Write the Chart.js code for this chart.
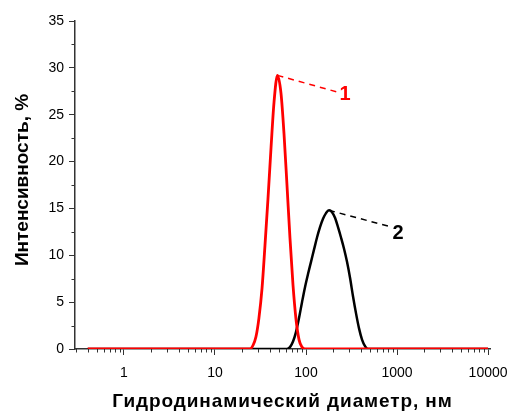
<!DOCTYPE html>
<html>
<head>
<meta charset="utf-8">
<script src="https://cdn.jsdelivr.net/npm/chart.js@4.4.1/dist/chart.umd.min.js"></script>
<style>
  html, body { margin: 0; padding: 0; background: #fff; }
</style>
</head>
<body>
<canvas id="c" width="513" height="412"></canvas>
<script>
// sample 1 (red): diameter, nm / intensity, %
const diam1 = [0.4, 24.2, 26.2, 28.2, 30.4, 32.9, 35.4, 38.2, 41.3, 44.5, 48.6,
  53.1, 57.3, 61.8, 66.7, 72.0, 77.6, 83.8, 90.4, 97.5, 10000];
const int1 = [0, 0, 0.4, 1.3, 3.3, 6.5, 11.0, 16.0, 21.5, 26.3, 29.2,
  27.3, 23.0, 17.5, 11.8, 6.8, 3.2, 1.0, 0.2, 0, 0];

// sample 2 (black)
const diam2 = [0.4, 61.8, 66.7, 72.0, 77.6, 83.8, 90.4, 97.5, 105.2, 113.5, 122.4,
  132.1, 142.5, 153.8, 165.9, 178.9, 193.1, 208.3, 224.7, 242.4, 261.6,
  282.2, 304.5, 328.6, 354.4, 382.3, 412.5, 444.9, 480.0, 10000];
const int2 = [0, 0, 0.2, 0.8, 1.8, 3.3, 5.0, 6.6, 8.0, 9.3, 10.6,
  11.9, 13.0, 13.9, 14.5, 14.8, 14.6, 14.0, 13.0, 11.9, 10.7,
  9.3, 7.6, 5.6, 3.8, 2.2, 1.0, 0.3, 0, 0];

const xTicks = [1, 10, 100, 1000, 10000];
const yTicks = [0, 5, 10, 15, 20, 25, 30, 35];
const curveLabels = ['1', '2'];
const xTitle = 'Гидродинамический диаметр, нм';
const yTitle = 'Интенсивность, %';

const FONT = "'Liberation Sans', Arial, sans-serif";

function pts(xs, ys) {
  return xs.map((d, i) => ({ x: d, y: ys[i] }));
}

// leader lines + curve numbers (data coords)
const notes = [
  { from: [48.6, 29.2], to: [225, 27.4], at: [268, 27.3], text: curveLabels[0], color: '#ff0000' },
  { from: [178.9, 14.8], to: [881, 13.0], at: [1026, 12.4], text: curveLabels[1], color: '#000000' }
];

const notePlugin = {
  id: 'notes',
  afterDatasetsDraw(chart) {
    const ctx = chart.ctx;
    const xs = chart.scales.x, ys = chart.scales.y;
    ctx.save();
    notes.forEach(n => {
      ctx.beginPath();
      ctx.setLineDash([6, 5]);
      ctx.lineWidth = 1.5;
      ctx.strokeStyle = n.color;
      ctx.moveTo(xs.getPixelForValue(n.from[0]), ys.getPixelForValue(n.from[1]));
      ctx.lineTo(xs.getPixelForValue(n.to[0]), ys.getPixelForValue(n.to[1]));
      ctx.stroke();
      ctx.setLineDash([]);
      ctx.fillStyle = n.color;
      ctx.font = 'bold 20px ' + FONT;
      ctx.textAlign = 'center';
      ctx.textBaseline = 'middle';
      ctx.fillText(n.text, xs.getPixelForValue(n.at[0]), ys.getPixelForValue(n.at[1]) + 1);
    });
    ctx.restore();
  }
};

// short minor ticks + axis titles
const decor = {
  id: 'decor',
  afterDraw(chart) {
    const ctx = chart.ctx;
    const xs = chart.scales.x, ys = chart.scales.y;
    const area = chart.chartArea;
    ctx.save();
    ctx.strokeStyle = '#333';
    ctx.lineWidth = 1;
    ctx.beginPath();
    for (let k = -1; k <= 3; k++) {
      for (let d = 2; d <= 9; d++) {
        const v = d * Math.pow(10, k);
        if (v < xs.min || v > xs.max) continue;
        const px = Math.round(xs.getPixelForValue(v)) + 0.5;
        ctx.moveTo(px, area.bottom);
        ctx.lineTo(px, area.bottom + 3.5);
      }
    }
    for (let v = 2.5; v < 35; v += 5) {
      const py = Math.round(ys.getPixelForValue(v)) + 0.5;
      ctx.moveTo(area.left, py);
      ctx.lineTo(area.left - 3.5, py);
    }
    ctx.stroke();

    ctx.fillStyle = '#000';
    ctx.font = 'bold 19px ' + FONT;
    ctx.textAlign = 'center';
    ctx.textBaseline = 'alphabetic';
    ctx.letterSpacing = '0.9px';
    ctx.fillText(xTitle, (area.left + area.right) / 2, 407);
    ctx.letterSpacing = '0px';
    ctx.translate(27.5, 180);
    ctx.rotate(-Math.PI / 2);
    ctx.fillText(yTitle, 0, 0);
    ctx.restore();
  }
};

new Chart(document.getElementById('c'), {
  type: 'line',
  data: {
    datasets: [
      { label: '1', data: pts(diam1, int1), borderColor: '#ff0000', borderWidth: 2.8,
        pointRadius: 0, cubicInterpolationMode: 'monotone', fill: false },
      { label: '2', data: pts(diam2, int2), borderColor: '#000000', borderWidth: 2.5,
        pointRadius: 0, cubicInterpolationMode: 'monotone', fill: false }
    ]
  },
  options: {
    responsive: false,
    animation: false,
    layout: { padding: { left: 0, right: 23, top: 21, bottom: 0 } },
    plugins: { legend: { display: false }, tooltip: { enabled: false } },
    scales: {
      x: {
        type: 'logarithmic',
        min: 0.29,
        max: 10500,
        afterBuildTicks: s => { s.ticks = xTicks.map(v => ({ value: v })); },
        afterFit: s => { s.height = 63; s.paddingLeft = 0; s.paddingRight = 0; },
        ticks: {
          autoSkip: false, maxRotation: 0, padding: 10,
          color: '#000', font: { family: FONT, size: 14 },
          callback: v => String(v)
        },
        grid: { drawOnChartArea: false, drawTicks: true, tickLength: 6, tickColor: '#333' },
        border: { display: true, color: '#333', width: 1.5 }
      },
      y: {
        min: 0,
        max: 35,
        afterBuildTicks: s => { s.ticks = yTicks.map(v => ({ value: v })); },
        afterFit: s => { s.width = 75; s.paddingTop = 0; s.paddingBottom = 0; },
        ticks: {
          padding: 5, color: '#000', font: { family: FONT, size: 14 }
        },
        grid: { drawOnChartArea: false, drawTicks: true, tickLength: 6, tickColor: '#333' },
        border: { display: true, color: '#333', width: 1.5 }
      }
    }
  },
  plugins: [notePlugin, decor]
});
</script>
</body>
</html>
